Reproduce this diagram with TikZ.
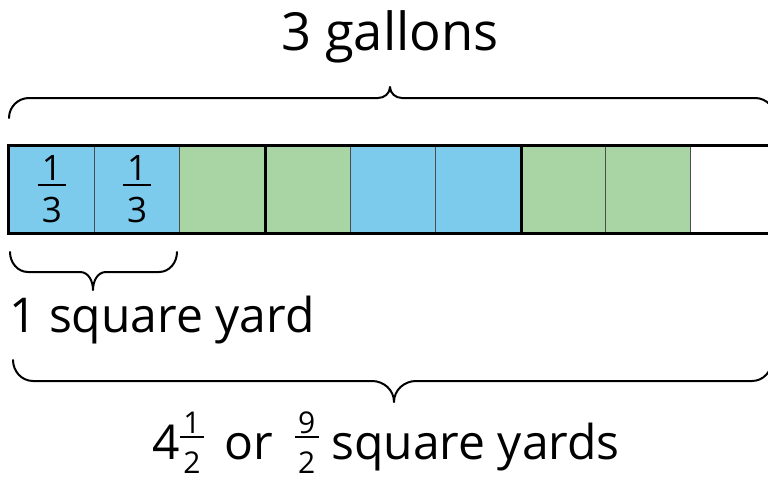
\documentclass[tikz,border=0pt]{standalone}
\usepackage{fontspec}
\setmainfont{Open Sans}
\usepackage{tikz}

\definecolor{cellblue}{RGB}{124,203,236}
\definecolor{cellgreen}{RGB}{168,213,163}

% stacked fraction, optional gap under the bar
\newcommand\fr[3][0.33em]{\vbox{\offinterlineskip\halign{\hfil##\hfil\cr\kern0.12em#2\kern0.12em\cr\noalign{\kern0.08em\hrule height0.06em\kern#1}#3\cr}}}

\begin{document}
\begin{tikzpicture}[x=1pt, y=1pt,
  cell/.style={draw=black!70, line width=1pt, minimum width=85.2pt, minimum height=86.7pt, inner sep=0pt},
  frame/.style={line width=3pt},
  curly/.style={line width=2pt, line cap=round, line join=round},
  bigtext/.style={font=\fontsize{52.5}{60}\selectfont, inner sep=0pt},
  midtext/.style={font=\fontsize{48}{55}\selectfont, inner sep=0pt},
  celltext/.style={font=\fontsize{35}{40}\selectfont, inner sep=0pt}]
\useasboundingbox (0,0) rectangle (768,-479);
\clip (0,0) rectangle (768,-479);
%
\foreach \col [count=\i from 0] in {cellblue,cellblue,cellgreen,cellgreen,cellblue,cellblue,cellgreen,cellgreen,white}
  \node [cell, fill=\col] (c\i) at ({51.9+85.2*\i}, -189.3) {};
%
\draw [frame] (c0.north west) rectangle (c8.south east);
\draw [frame] (c2.north east) -- (c2.south east);
\draw [frame] (c5.north east) -- (c5.south east);
%
\node [celltext] (f0) at (c0) {\fr{1}{3}};
\node [celltext] (f1) at (c1) {\fr{1}{3}};
%
\draw [curly] (9,-118) to[out=90,in=180] (29,-98) -- (378,-98) to[out=0,in=-90] (390,-87)
  to[out=-90,in=180] (402,-98) -- (755,-98) to[out=0,in=90] (775,-118);
\draw [curly] (10,-252) to[out=-90,in=180] (28,-272) -- (80,-272) to[out=0,in=90] (93,-290)
  to[out=90,in=180] (106,-272) -- (159,-272) to[out=0,in=-90] (177,-252);
\draw [curly] (13,-360) to[out=-90,in=180] (33,-381) -- (372,-381) to[out=0,in=90] (394,-402)
  to[out=90,in=180] (416,-381) -- (752,-381) to[out=0,in=-90] (772,-360);
%
\node [bigtext, anchor=base] (gallons) at (390,-50) {3 gallons};
\node [midtext, anchor=base west] (oneyard) at (9,-332) {1 square yard};
\node [midtext, anchor=base] (total) at (386,-459) {4\raisebox{-14pt}{\fontsize{30}{36}\selectfont\fr[0.45em]{1}{2}}\hspace{20pt}or\hspace{22pt}\raisebox{-14pt}{\fontsize{30}{36}\selectfont\fr[0.45em]{9}{2}} square yards};
%%%%%%%%%%%%%%%%%%%%%%%%%%%%%%%
\end{tikzpicture}
\end{document}
